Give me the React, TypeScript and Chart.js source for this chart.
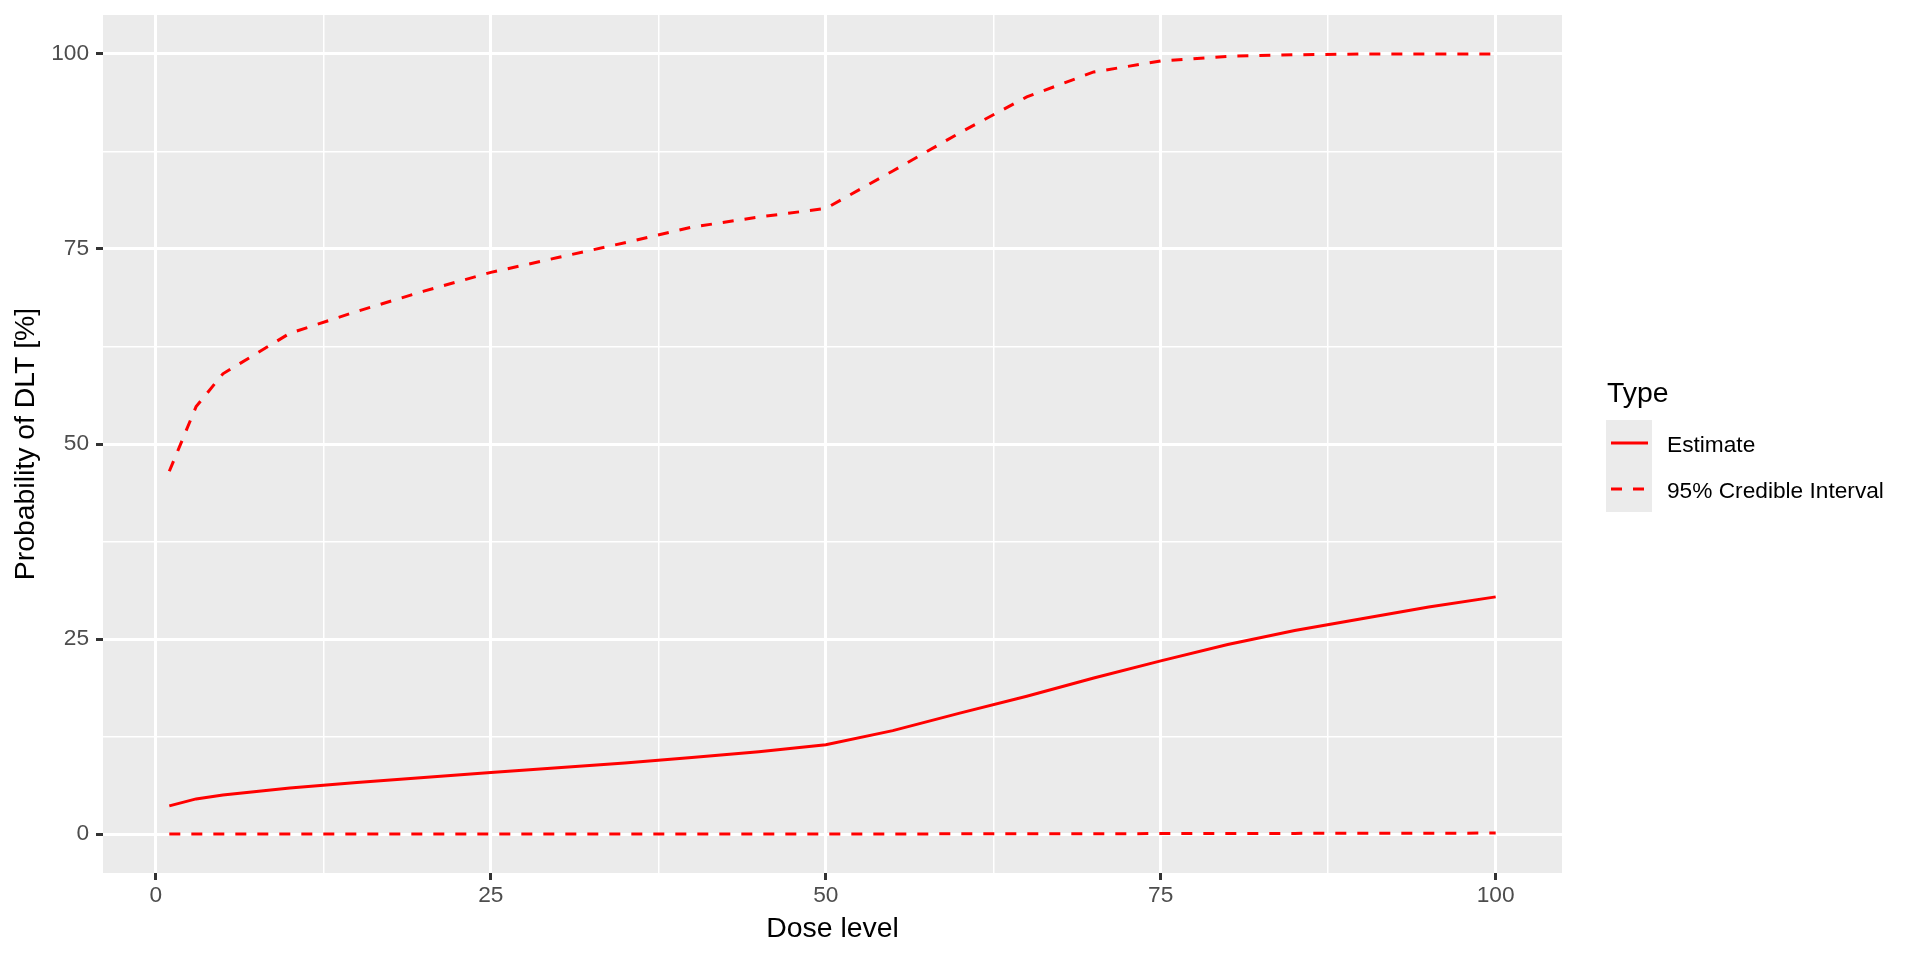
import React, { useEffect, useRef } from 'react';
import { Chart, registerables } from 'chart.js';

Chart.register(...registerables);

const doses = [1, 3, 5, 10, 15, 20, 25, 30, 35, 40, 45, 50, 55, 60, 65, 70, 75, 80, 85, 90, 95, 100];
const estimate = [3.6, 4.5, 5.0, 5.9, 6.6, 7.25, 7.9, 8.5, 9.1, 9.8, 10.55, 11.45, 13.25, 15.5, 17.65, 20.0, 22.2, 24.3, 26.1, 27.6, 29.1, 30.4];
const upperCI = [46.5, 54.8, 59.0, 64.2, 67.0, 69.6, 72.0, 73.9, 75.8, 77.8, 79.1, 80.2, 85.0, 89.9, 94.5, 97.7, 99.1, 99.7, 99.9, 100, 100, 100];
const lowerCI = [0, 0, 0, 0, 0, 0, 0, 0, 0, 0, 0, 0, 0.01, 0.02, 0.03, 0.04, 0.05, 0.06, 0.08, 0.09, 0.1, 0.12];
const xTicks = [0, 12.5, 25, 37.5, 50, 62.5, 75, 87.5, 100];
const yTicks = [0, 12.5, 25, 37.5, 50, 62.5, 75, 87.5, 100];
const legendTitle = 'Type';
const legendLabels = ['Estimate', '95% Credible Interval'];
const xTitle = 'Dose level';
const yTitle = 'Probability of DLT [%]';

const FONT = "'Liberation Sans', Arial, sans-serif";
const RED = '#FF0000';
const LW = 3;
const DASH = [11, 11];

const toPts = (ys: number[]) => doses.map((d, i) => ({ x: d, y: ys[i] }));
const isMajor = (v: number) => Math.abs(v % 25) < 1e-9;

const panelBg = {
  id: 'panelBg',
  beforeDraw(chart: any) {
    const { ctx, chartArea } = chart;
    ctx.save();
    ctx.fillStyle = '#FFFFFF';
    ctx.fillRect(0, 0, chart.width, chart.height);
    ctx.fillStyle = '#EBEBEB';
    ctx.fillRect(chartArea.left, chartArea.top, chartArea.right - chartArea.left, chartArea.bottom - chartArea.top);
    ctx.restore();
  },
};

const legendPlugin = {
  id: 'ggLegend',
  afterDraw(chart: any) {
    const { ctx } = chart;
    ctx.save();
    ctx.fillStyle = '#000000';
    ctx.textBaseline = 'alphabetic';
    ctx.textAlign = 'left';
    ctx.font = `28.4px ${FONT}`;
    ctx.fillText(legendTitle, 1607, 402);
    const keyX = 1606, keyW = 46, keyH = 46, keyY = 420;
    ctx.font = `22.7px ${FONT}`;
    legendLabels.forEach((lab, i) => {
      const y0 = keyY + i * keyH;
      ctx.fillStyle = '#EBEBEB';
      ctx.fillRect(keyX, y0, keyW, keyH);
      ctx.strokeStyle = RED;
      ctx.lineWidth = LW;
      ctx.lineCap = 'butt';
      ctx.setLineDash(i === 0 ? [] : DASH);
      ctx.beginPath();
      ctx.moveTo(keyX + 5, y0 + keyH / 2);
      ctx.lineTo(keyX + keyW - 4, y0 + keyH / 2);
      ctx.stroke();
      ctx.setLineDash([]);
      ctx.fillStyle = '#000000';
      ctx.fillText(lab, 1667, y0 + 32);
    });
    ctx.restore();
  },
};

export default function App() {
  const ref = useRef<HTMLCanvasElement>(null);
  useEffect(() => {
    document.body.style.margin = '0';
    const lineDs = (label: string, ys: number[], dashed: boolean) => ({
      label,
      data: toPts(ys),
      borderColor: RED,
      backgroundColor: RED,
      borderWidth: LW,
      borderDash: dashed ? DASH : [],
      borderCapStyle: 'butt' as const,
      pointRadius: 0,
      tension: 0,
      fill: false,
    });
    const gridOpts = {
      color: '#FFFFFF',
      lineWidth: (c: any) => (c.tick && isMajor(c.tick.value) ? LW : LW / 2),
      drawTicks: true,
      tickLength: 7,
      tickWidth: LW,
      tickColor: (c: any) => (c.tick && isMajor(c.tick.value) ? '#333333' : 'rgba(0,0,0,0)'),
    };
    const tickFont = { family: FONT, size: 22.7 };
    const titleFont = { family: FONT, size: 28.4 };
    const chart = new Chart(ref.current!, {
      type: 'line',
      data: {
        datasets: [
          lineDs('Estimate', estimate, false),
          lineDs('Upper', upperCI, true),
          lineDs('Lower', lowerCI, true),
        ],
      },
      options: {
        animation: false,
        responsive: false,
        devicePixelRatio: 1,
        layout: { padding: { left: 0, right: 358, top: 15, bottom: 0 } },
        plugins: { legend: { display: false }, tooltip: { enabled: false } },
        scales: {
          x: {
            type: 'linear',
            min: -3.95,
            max: 104.95,
            afterBuildTicks: (s: any) => {
              s.ticks = xTicks.map((v) => ({ value: v }));
            },
            afterFit: (s: any) => {
              s.height = 87;
              s.paddingLeft = 0;
              s.paddingRight = 0;
            },
            grid: gridOpts as any,
            border: { display: false },
            ticks: {
              autoSkip: false,
              maxRotation: 0,
              padding: 2,
              color: '#4D4D4D',
              font: tickFont,
              callback: (v: any) => (isMajor(Number(v)) ? String(v) : ''),
            },
            title: { display: true, text: xTitle, color: '#000000', font: titleFont, padding: { top: 0, bottom: 14 } },
          },
          y: {
            type: 'linear',
            min: -5,
            max: 105,
            afterBuildTicks: (s: any) => {
              s.ticks = yTicks.map((v) => ({ value: v }));
            },
            afterFit: (s: any) => {
              s.width = 103;
              s.paddingTop = 0;
              s.paddingBottom = 0;
            },
            grid: gridOpts as any,
            border: { display: false },
            ticks: {
              autoSkip: false,
              padding: 7,
              color: '#4D4D4D',
              font: tickFont,
              callback: (v: any) => (isMajor(Number(v)) ? String(v) : ''),
            },
            title: { display: true, text: yTitle, color: '#000000', font: titleFont, padding: { top: 9, bottom: 0 } },
          },
        },
      },
      plugins: [panelBg, legendPlugin],
    });
    return () => chart.destroy();
  }, []);
  return (
    <canvas
      ref={ref}
      width={1920}
      height={960}
      style={{ display: 'block', width: 1920, height: 960, position: 'absolute', left: 0, top: 0 }}
    />
  );
}
